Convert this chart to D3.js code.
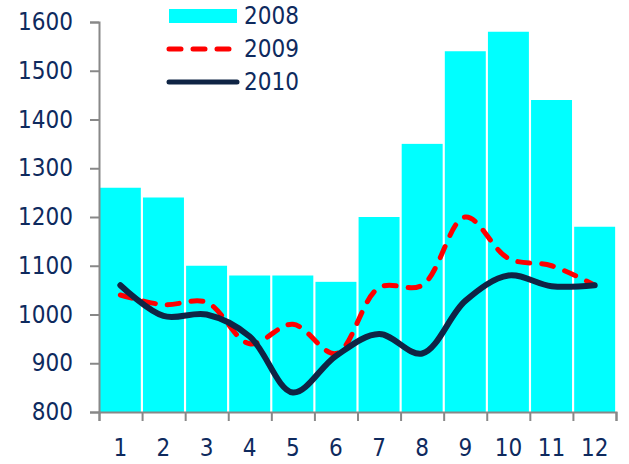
<!DOCTYPE html>
<html><head><meta charset="utf-8">
<script src="https://cdn.jsdelivr.net/npm/d3@7"></script>
<style>body{margin:0;background:#fff}svg{display:block}</style>
</head><body><svg id="c" width="629" height="464"></svg>
<script>
const months = ["1","2","3","4","5","6","7","8","9","10","11","12"];
const values2008 = [1260,1240,1100,1080,1080,1067,1200,1350,1540,1580,1440,1180];
const values2009 = [1040,1020,1025,940,980,920,1055,1060,1200,1115,1100,1060];
const values2010 = [1060,997,1000,955,840,915,960,920,1028,1080,1058,1060];
const yTicks = [800,900,1000,1100,1200,1300,1400,1500,1600];
const seriesNames = ["2008","2009","2010"];

(function(){
const svg = d3.select("#c");
const mL = 99, mR = 616, mT = 22, mB = 412;
const x = d3.scaleBand().domain(months).range([mL,mR]).paddingInner(0.05).paddingOuter(0.02);
const xEdge = d3.scaleLinear().domain([0,12]).range([mL,mR]);
const y = d3.scaleLinear().domain([800,1600]).range([mB,mT]);
const font = "'DejaVu Sans Condensed','DejaVu Sans',sans-serif";
const txt = "#0e2a5e";

svg.append("g").selectAll("rect").data(values2008).join("rect")
  .attr("x",(d,i)=>x(months[i])).attr("width",x.bandwidth())
  .attr("y",d=>y(d)).attr("height",d=>y(800)-y(d)).attr("fill","#00ffff");

const line = d3.line().x((d,i)=>x(months[i])+x.bandwidth()/2).y(d=>y(d)).curve(d3.curveCatmullRom.alpha(0.5));
svg.append("path").attr("d",line(values2009)).attr("fill","none").attr("stroke","#ff0000")
  .attr("stroke-width",5).attr("stroke-dasharray","12,12").attr("stroke-linecap","round");
svg.append("path").attr("d",line(values2010)).attr("fill","none").attr("stroke","#0f2444")
  .attr("stroke-width",6).attr("stroke-linecap","round");

const yAxis = svg.append("g").attr("transform",`translate(${mL},0)`)
  .call(d3.axisLeft(y).tickValues(yTicks).tickSize(9).tickPadding(17).tickFormat(d3.format("d")));
yAxis.select(".domain").attr("stroke","#888").attr("stroke-width",2);
yAxis.selectAll(".tick line").attr("stroke","#888").attr("stroke-width",2);
yAxis.selectAll("text").attr("fill",txt).style("font-family",font).style("font-size","24px");

const xAxis = svg.append("g").attr("transform",`translate(0,${mB})`)
  .call(d3.axisBottom(xEdge).tickValues(d3.range(0,13)).tickSize(9).tickFormat(""));
xAxis.select(".domain").attr("stroke","#888").attr("stroke-width",2);
xAxis.selectAll(".tick line").attr("stroke","#888").attr("stroke-width",2);
svg.append("g").selectAll("text").data(months).join("text")
  .attr("x",d=>x(d)+x.bandwidth()/2).attr("y",456)
  .attr("text-anchor","middle").attr("fill",txt).style("font-family",font).style("font-size","24px")
  .text(d=>d);

const lg = svg.append("g");
lg.append("rect").attr("x",169).attr("y",9).attr("width",68).attr("height",14).attr("fill","#00ffff");
lg.append("line").attr("x1",169).attr("x2",231).attr("y1",49).attr("y2",49).attr("stroke","#ff0000")
  .attr("stroke-width",5).attr("stroke-dasharray","12,12").attr("stroke-linecap","round");
lg.append("line").attr("x1",169).attr("x2",237).attr("y1",82).attr("y2",82).attr("stroke","#0f2444")
  .attr("stroke-width",5).attr("stroke-linecap","round");
lg.selectAll("text").data(seriesNames).join("text")
  .attr("x",244).attr("y",(d,i)=>16+i*33).attr("dy","0.35em")
  .attr("fill",txt).style("font-family",font).style("font-size","24px").text(d=>d);
})();
</script></body></html>
